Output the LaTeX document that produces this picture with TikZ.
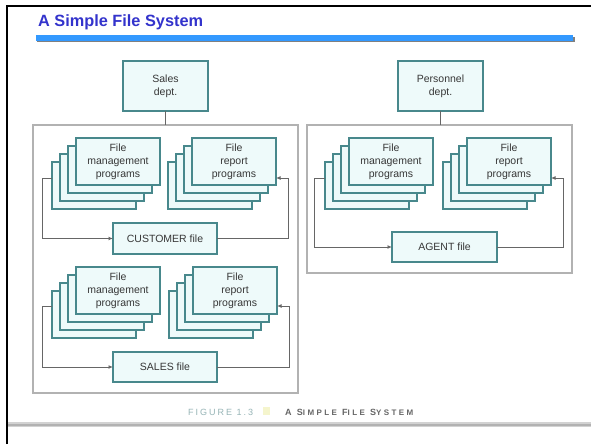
\documentclass[tikz,border=0pt]{standalone}
\usepackage{fontspec}
\setmainfont{Liberation Sans}
\newfontfamily\capfont[LetterSpace=22]{Liberation Sans}
\newfontfamily\captitlefont[LetterSpace=30]{Liberation Sans}
\usetikzlibrary{arrows.meta}

\definecolor{titleblue}{RGB}{51,51,204}
\definecolor{barblue}{RGB}{51,153,255}
\definecolor{boxedge}{RGB}{72,136,140}
\definecolor{boxfill}{RGB}{238,250,250}
\definecolor{txt}{RGB}{55,55,55}
\definecolor{capteal}{RGB}{150,180,182}
\definecolor{capsq}{RGB}{245,245,205}

\tikzset{
  unit/.style={draw=boxedge, line width=1.7pt, fill=boxfill, inner sep=0pt,
    outer sep=0pt, anchor=north west, align=center,
    font=\fontsize{10.5}{13}\selectfont, text=txt},
  prog/.style={unit, minimum width=84pt, minimum height=47pt},
  dept/.style={unit, minimum width=85pt, minimum height=50pt},
  datafile/.style={unit, minimum width=104pt, minimum height=31pt},
  area/.style={draw=gray!60, line width=1.2pt, inner sep=0pt, outer sep=0pt,
    anchor=north west},
  flow/.style={draw=gray!80!black, line width=0.9pt},
  flowarrow/.style={flow, -{Latex[length=4.5pt,width=4pt]}},
}

% a stack of four program sheets; the front sheet carries the label
\newcommand{\progstack}[4]{%
  \foreach \k in {3,2,1} {
    \node[prog] (#1\k) at ({#2-8*\k},{#3+8*\k}) {};
  }
  \node[prog] (#1) at (#2,#3) {#4};
}

\begin{document}
\begin{tikzpicture}[x=1pt,y=-1pt]
  \useasboundingbox (0,0) rectangle (591,444);
  \fill[white] (0,0) rectangle (591,444);

  % page frame and rules
  \draw[line width=2.5pt] (7,444) -- (7,6) -- (591,6);
  \fill[gray] (37,37) rectangle (575,42);
  \fill[barblue] (36,35) rectangle (573,41);
  \draw[gray!35, line width=5pt] (8,424.5) -- (591,424.5);
  \draw[gray!60, line width=2pt] (8,424.5) -- (591,424.5);

  \node[anchor=base west, inner sep=0pt, text=titleblue,
        font=\fontsize{16.3}{18}\selectfont\bfseries] (title) at (38,27)
        {A Simple File System};

  % departments and their areas
  \node[dept] (sales) at (123,61) {Sales\\dept.};
  \node[dept] (personnel) at (398,61) {Personnel\\dept.};
  \node[area, minimum width=265pt, minimum height=268pt] (salesarea) at (33,125) {};
  \node[area, minimum width=265pt, minimum height=148pt] (persarea) at (307,125) {};
  \draw[flow] (sales.south) -- (sales.south |- salesarea.north);
  \draw[flow] (personnel.south) -- (personnel.south |- persarea.north);

  % sales: customer block
  \progstack{cm}{76}{138}{File\\management\\programs}
  \progstack{cr}{192}{138}{File\\report\\programs}
  \node[datafile] (customer) at (113,223) {CUSTOMER file};
  \coordinate (cl1) at (42,178);
  \coordinate (cr1) at (288,178);
  \draw[flowarrow] (cm3.west |- cl1) -- (cl1) |- (customer.west);
  \draw[flowarrow] (customer.east) -| (cr1) -- (cr.east |- cr1);

  % sales: sales block
  \progstack{sm}{76}{267}{File\\management\\programs}
  \progstack{sr}{193}{267}{File\\report\\programs}
  \node[datafile, minimum height=30pt] (salesfile) at (113,352) {SALES file};
  \coordinate (cl2) at (42,306);
  \coordinate (cr2) at (289,306);
  \draw[flowarrow] (sm3.west |- cl2) -- (cl2) |- (salesfile.west);
  \draw[flowarrow] (salesfile.east) -| (cr2) -- (sr.east |- cr2);

  % personnel: agent block
  \progstack{am}{349}{138}{File\\management\\programs}
  \progstack{ar}{467}{138}{File\\report\\programs}
  \node[datafile, minimum width=105pt, minimum height=30pt] (agent) at (392,232) {AGENT file};
  \coordinate (cl3) at (314,178);
  \coordinate (cr3) at (563,178);
  \draw[flowarrow] (am3.west |- cl3) -- (cl3) |- (agent.west);
  \draw[flowarrow] (agent.east) -| (cr3) -- (ar.east |- cr3);

  % caption
  \node[anchor=base west, inner sep=0pt, text=capteal,
        font=\fontsize{9}{10}\capfont] (fignum) at (188,415) {FIGURE 1.3};
  \fill[capsq] (263,407) rectangle (270,415);
  \node[anchor=base west, inner sep=0pt, text=gray!80!black,
        font=\fontsize{9}{10}\captitlefont\bfseries] (figtitle) at (285,415)
        {A S{\fontsize{8}{9}\selectfont IMPLE} F{\fontsize{8}{9}\selectfont ILE} S{\fontsize{8}{9}\selectfont YSTEM}};
\end{tikzpicture}
\end{document}
